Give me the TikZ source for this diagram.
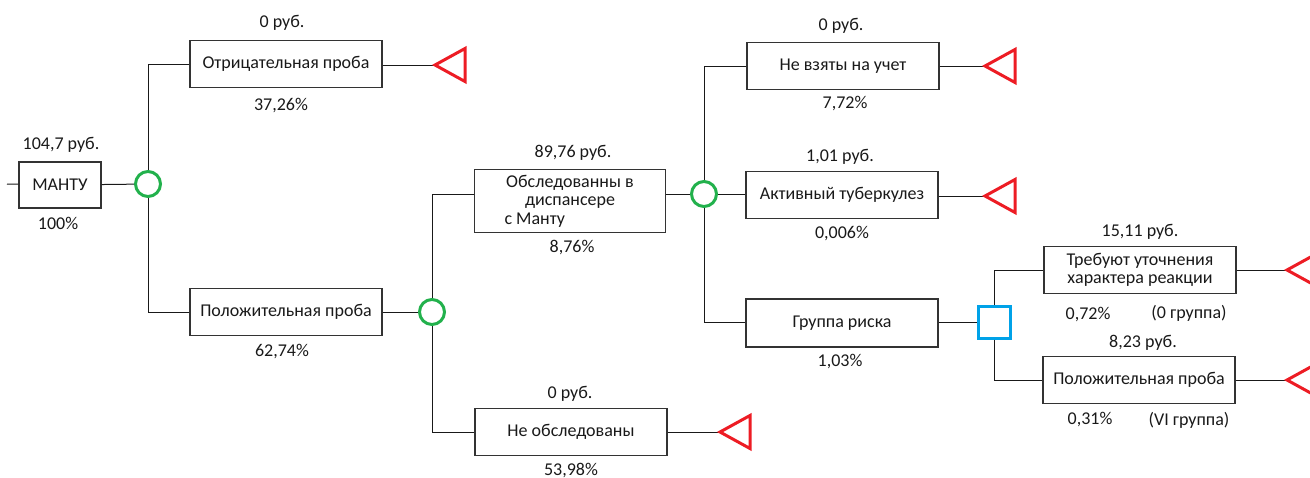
\documentclass[tikz,border=0pt]{standalone}
\usepackage{fontspec}
\setmainfont{Carlito}
\definecolor{chgreen}{HTML}{22B14C}
\definecolor{termred}{HTML}{ED1C24}
\definecolor{decblue}{HTML}{00A2E8}
\begin{document}
\begin{tikzpicture}[x=1pt,y=-1pt]
       \tikzstyle{every node}=[font=\fontsize{18}{18.5}\selectfont, text=black!90]
       \tikzstyle{box}=[draw=black!80, line width=1.1pt, minimum width=192pt, minimum height=47pt, inner sep=2pt, align=center]
       \tikzstyle{chance}=[circle, draw=chgreen, line width=3pt, minimum size=25pt, inner sep=0pt]
       \tikzstyle{decision}=[rectangle, draw=decblue, line width=3pt, minimum size=32pt, inner sep=0pt]
       \tikzstyle{term}=[draw=termred, line width=3pt, line join=miter]
       \tikzstyle{edge}=[draw=black!90, line width=1pt]
       \useasboundingbox (0,0) rectangle (1310,477);
       \clip (0,0) rectangle (1310,477);
       \node[box, minimum width=82pt, minimum height=46pt] (mantu) at (60,185) {МАНТУ};
       \node (mantuv) at (61,145) {104,7 руб.};
       \node (mantup) at (58,223) {100\%};
       \coordinate (start) at (7,184);
       \node[chance] (c1) at (148,184) {};
       \node[box] (neg) at (286,64) {Отрицательная проба};
       \node (negv) at (282,23) {0 руб.};
       \node (negp) at (281,106) {37,26\%};
       \node[box] (pos) at (286,312) {Положительная проба};
       \node (posp) at (282,352) {62,74\%};
       \node[chance] (c2) at (432,312) {};
       \node[box, minimum width=191pt, minimum height=63pt] (exam) at (570,201)
        {Обследованны в\\диспансере\\\makebox[131pt][l]{с Манту}};
       \node (examv) at (573,153) {89,76 руб.};
       \node (examp) at (572,247) {8,76\%};
       \node[box] (notex) at (571,432) {Не обследованы};
       \node (notexv) at (570,394) {0 руб.};
       \node (notexp) at (571,470) {53,98\%};
       \node[chance] (c3) at (704,194) {};
       \node[box] (notreg) at (843,66) {Не взяты на учет};
       \node (notregv) at (841,26) {0 руб.};
       \node (notregp) at (845,104) {7,72\%};
       \node[box] (tb) at (842,195) {Активный туберкулез};
       \node (tbv) at (840,157) {1,01 руб.};
       \node (tbp) at (842,234) {0,006\%};
       \node[box, minimum height=48pt] (risk) at (842,323) {Группа риска};
       \node (riskp) at (840,362) {1,03\%};
       \node[decision] (d1) at (994,322) {};
       \node[box] (clar) at (1140,270) {Требуют уточнения\\характера реакции};
       \node (clarv) at (1140,232) {15,11 руб.};
       \node (clarp) at (1088,315) {0,72\%};
       \node (clarg) at (1189,313) {(0 группа)};
       \node[box] (pos2) at (1139,380) {Положительная проба};
       \node (pos2v) at (1143,343) {8,23 руб.};
       \node (pos2p) at (1090,420) {0,31\%};
       \node (pos2g) at (1189,420) {(VI группа)};
       \coordinate (t1) at (435,65);
       \coordinate (t2) at (720,432);
       \coordinate (t3) at (985,66);
       \coordinate (t4) at (985,196);
       \coordinate (t5) at (1287,270);
       \coordinate (t6) at (1287,380);
       \draw[edge] (start) -- (mantu);
       \draw[edge] (mantu) -- (c1);
       \draw[edge] (c1.north) |- (neg.west);
       \draw[edge] (c1.south) |- (pos.west);
       \draw[edge] (neg.east |- t1) -- (t1);
       \draw[edge] (pos) -- (c2);
       \draw[edge] (c2.north) |- (exam.west |- c3);
       \draw[edge] (c2.south) |- (notex.west);
       \draw[edge] (notex) -- (t2);
       \draw[edge] (exam.east |- c3) -- (c3);
       \draw[edge] (c3.north) |- (notreg.west);
       \draw[edge] (c3.east) -- (tb.west |- c3);
       \draw[edge] (c3.south) |- (risk.west |- d1);
       \draw[edge] (notreg) -- (t3);
       \draw[edge] (tb.east |- t4) -- (t4);
       \draw[edge] (risk.east |- d1) -- (d1);
       \draw[edge] (d1.north) |- (clar.west);
       \draw[edge] (d1.south) |- (pos2.west);
       \draw[edge] (clar) -- (t5);
       \draw[edge] (pos2) -- (t6);
       \foreach \t in {t1,t2,t3,t4,t5,t6}
        \draw[term] (\t) -- ++(30,-16.5) -- ++(0,33) -- cycle;
      \end{tikzpicture}
\end{document}
